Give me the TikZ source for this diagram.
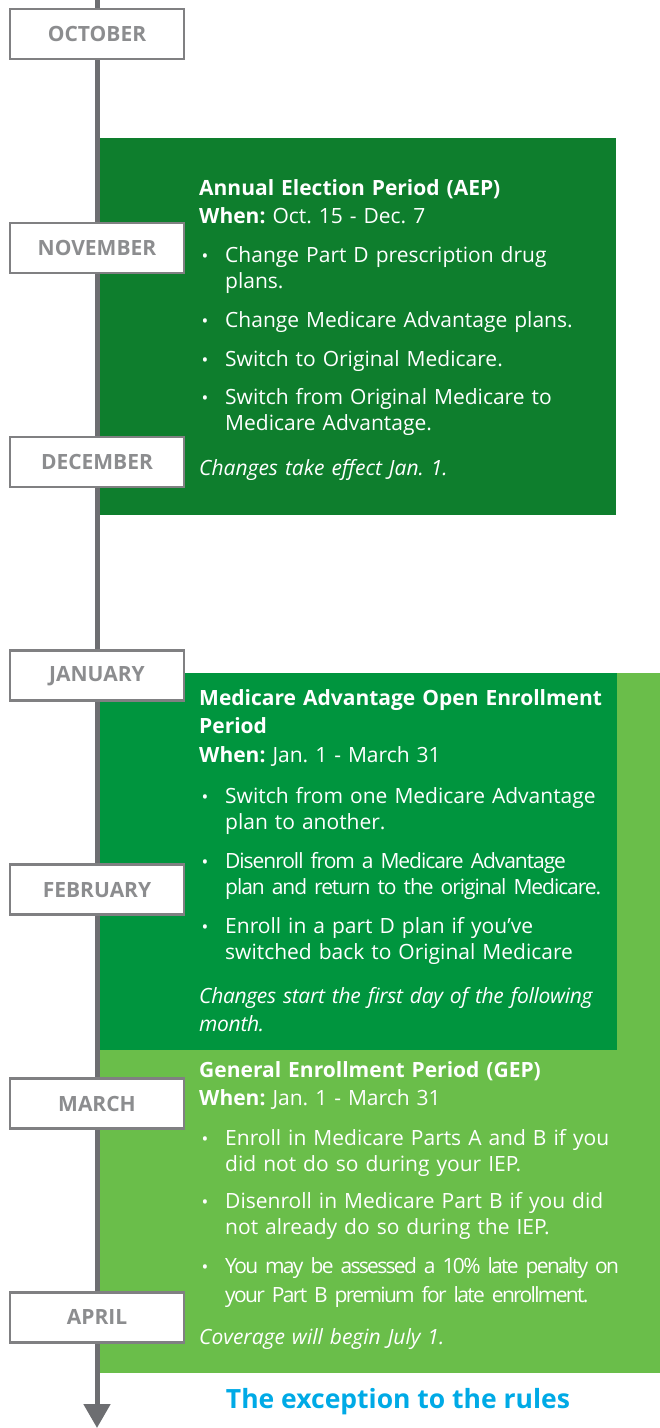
\documentclass[tikz,border=0pt]{standalone}
\usepackage{fontspec}
\setmainfont{Open Sans}
\usetikzlibrary{arrows.meta,positioning}
\definecolor{aepgreen}{RGB}{14,126,45}
\definecolor{oepgreen}{RGB}{0,149,62}
\definecolor{gepgreen}{RGB}{106,190,74}
\definecolor{linegray}{RGB}{109,110,113}
\definecolor{boxgray}{RGB}{128,128,130}
\definecolor{monthgray}{RGB}{140,141,143}
\definecolor{rulesblue}{RGB}{0,170,230}
\frenchspacing

\begin{document}
\begin{tikzpicture}[
        x=1pt, y=-1pt,
        month/.style={rectangle, draw=boxgray, line width=2.5pt, fill=white, minimum width=174pt, minimum height=50pt, inner sep=0pt, text=monthgray, font=\fontsize{21}{24}\selectfont\bfseries},
        period/.style={rectangle, anchor=north west, inner sep=0pt, outer sep=0pt},
        head/.style={anchor=base west, inner sep=0pt, text width=450pt, align=left, text=white, font=\fontsize{21}{28.5}\selectfont},
        body/.style={anchor=base west, inner sep=0pt, text width=450pt, align=left, text=white, font=\fontsize{21}{26.5}\selectfont},
        dot/.style={anchor=base, inner sep=0pt, text=white, font=\fontsize{18}{20}\selectfont},
        timeline/.style={line width=5pt, draw=linegray, -{Triangle[width=26pt,length=24pt]}},
    ]
    \useasboundingbox (0,0) rectangle (660,1428);

    % Period boxes
    \node[period, fill=gepgreen, minimum width=560pt, minimum height=700pt] (gep) at (100,673) {};
    \node[period, fill=oepgreen, minimum width=517pt, minimum height=377pt] (oep) at (100,673) {};
    \node[period, fill=aepgreen, minimum width=516pt, minimum height=377pt] (aep) at (100,138) {};

    % Timeline
    \coordinate (start) at (97,0);
    \coordinate (end) at (97,1428);
    \draw[timeline] (start) -- (end);

    % Months
    \node[month] (oct) at (97,34) {OCTOBER};
    \node[month, below=161.4pt of oct] (nov) {NOVEMBER};
    \node[month, below=161.4pt of nov] (dec) {DECEMBER};
    \node[month, below=161.4pt of dec] (jan) {JANUARY};
    \node[month, below=161.4pt of jan] (feb) {FEBRUARY};
    \node[month, below=161.4pt of feb] (mar) {MARCH};
    \node[month, below=161.4pt of mar] (apr) {APRIL};

    % Annual Election Period
    \node[head] (aep-head) at (199,195) {\textbf{Annual Election Period (AEP)}\\\textbf{When:} Oct. 15 - Dec. 7};
    \node[dot] (aep-d1) at (205,262) {•};
    \node[body] (aep-1) at (225,262) {Change Part D prescription drug\\plans.};
    \node[dot] (aep-d2) at (205,327) {•};
    \node[body] (aep-2) at (225,327) {Change Medicare Advantage plans.};
    \node[dot] (aep-d3) at (205,366) {•};
    \node[body] (aep-3) at (225,366) {Switch to Original Medicare.};
    \node[dot] (aep-d4) at (205,404) {•};
    \node[body] (aep-4) at (225,404) {Switch from Original Medicare to\\Medicare Advantage.};
    \node[body] (aep-note) at (199,475) {\itshape Changes take effect Jan. 1.};

    % Medicare Advantage Open Enrollment Period
    \node[head] (oep-head) at (199,705) {\textbf{Medicare Advantage Open Enrollment}\\\textbf{Period}\\\textbf{When:} Jan. 1 - March 31};
    \node[dot] (oep-d1) at (205,803) {•};
    \node[body] (oep-1) at (225,803) {Switch from one Medicare Advantage\\plan to another.};
    \node[dot] (oep-d2) at (205,868) {•};
    \node[body, font=\fontsize{21}{26.5}\selectfont\addfontfeature{LetterSpace=-5}] (oep-2) at (225,868) {Disenroll from a Medicare Advantage\\plan and return to the original Medicare.};
    \node[dot] (oep-d3) at (205,933) {•};
    \node[body] (oep-3) at (225,933) {Enroll in a part D plan if you’ve\\switched back to Original Medicare};
    \node[body, font=\fontsize{21}{28}\selectfont\addfontfeature{LetterSpace=-1.5}] (oep-note) at (199,1003) {\itshape Changes start the first day of the following\\\itshape month.};

    % General Enrollment Period
    \node[head] (gep-head) at (199,1077) {\textbf{General Enrollment Period (GEP)}\\\textbf{When:} Jan. 1 - March 31};
    \node[dot] (gep-d1) at (205,1145) {•};
    \node[body] (gep-1) at (225,1145) {Enroll in Medicare Parts A and B if you\\did not do so during your IEP.};
    \node[dot] (gep-d2) at (205,1208) {•};
    \node[body] (gep-2) at (225,1208) {Disenroll in Medicare Part B if you did\\not already do so during the IEP.};
    \node[dot] (gep-d3) at (205,1273) {•};
    \node[body, font=\fontsize{21}{29}\selectfont\addfontfeature{LetterSpace=-8}] (gep-3) at (225,1273) {You may be assessed a 10\% late penalty on\\your Part B premium for late enrollment.};
    \node[body] (gep-note) at (199,1344) {\itshape Coverage will begin July 1.};

    \node[text=rulesblue, font=\fontsize{26.5}{30}\selectfont\bfseries] (rules) at (398,1402) {The exception to the rules};

\end{tikzpicture}
\end{document}
